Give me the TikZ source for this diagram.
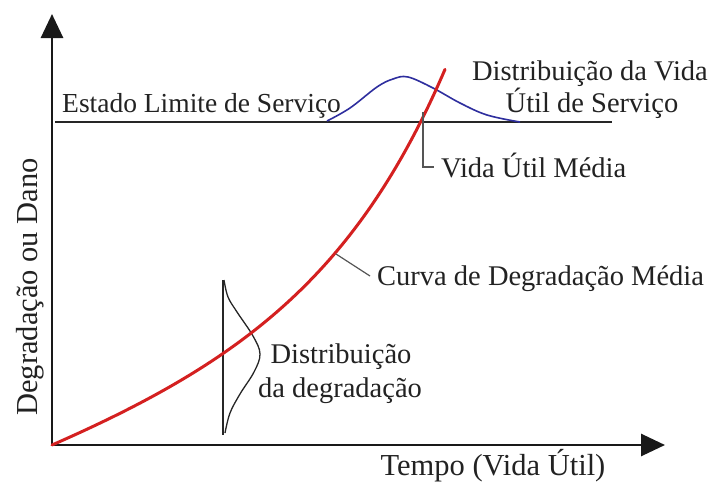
\documentclass[tikz,border=0pt]{standalone}
\usepackage{fontspec}
\setmainfont{Liberation Serif}
\usetikzlibrary{arrows.meta}
\definecolor{txt}{HTML}{222222}
\definecolor{curvered}{HTML}{D42020}
\definecolor{navy}{HTML}{2E2E9E}
\definecolor{leader}{HTML}{555555}
\tikzset{
  axis/.style={line width=2.8pt, draw=black!90, -{Triangle[length=24pt,width=22pt]}},
  lbl/.style={text=txt, inner sep=0pt, font=\fontsize{28.5}{32}\selectfont},
  axlbl/.style={text=txt, inner sep=0pt, font=\fontsize{30.5}{34}\selectfont},
  leaderline/.style={draw=leader, line width=1.2pt},
  thinblack/.style={draw=black!85, line width=1.5pt}
}
\begin{document}
\begin{tikzpicture}[x=1pt,y=-1pt]
\useasboundingbox (0,0) rectangle (715,490);
\coordinate (O) at (52,445);
\coordinate (xend) at (665,445);
\coordinate (ytop) at (52,14);
\draw[axis] (O) -- (xend);
\draw[axis] (O) -- (ytop);
% limit line
\coordinate (limL) at (55,122);
\coordinate (limR) at (612,122);
\draw[thinblack] (limL) -- (limR);
% blue distribution
\draw[navy, line width=1.6pt] plot[smooth, tension=0.6] coordinates {(327,121) (350,108) (377,87) (393,79) (408,77) (433,88) (460,103) (487,115) (520,122)};
% degradation distribution
\coordinate (dtop) at (223,280);
\coordinate (dbot) at (223,435);
\draw[thinblack] (dtop) -- (dbot);
\draw[black!85, line width=1.3pt] plot[smooth, tension=0.6] coordinates {(224,280) (228,297) (237,312) (253,336) (260,354) (254,372) (240,394) (230,413) (225,433)};
% red curve
\draw[curvered, line width=3pt, line cap=round] plot[domain=0:393, samples=140, variable=\t] ({52+\t},{445-(0.352*\t+10.71*(exp(0.008*\t)-1))});
% leaders
\coordinate (vA) at (423,112);
\coordinate (vB) at (423,167);
\coordinate (vC) at (434,167);
\draw[leaderline] (vA) -- (vB) -- (vC);
\coordinate (cA) at (336,254);
\coordinate (cB) at (370,276);
\draw[leaderline] (cA) -- (cB);
% labels
\node[lbl, anchor=base west, font=\fontsize{27.5}{31}\selectfont] (estado) at (62,112) {Estado Limite de Serviço};
\node[lbl, anchor=base] (dv1) at (590,80) {Distribuição da Vida};
\node[lbl, anchor=base] (dv2) at (592,112) {Útil de Serviço};
\node[lbl, anchor=base west] (vum) at (441,177) {Vida Útil Média};
\node[lbl, anchor=base west] (curva) at (377,285) {Curva de Degradação Média};
\node[lbl, anchor=base] (dd1) at (341,363) {Distribuição};
\node[lbl, anchor=base] (dd2) at (340,397) {da degradação};
\node[axlbl, anchor=base] (tempo) at (493,475) {Tempo (Vida Útil)};
\node[axlbl, anchor=base, rotate=90] (ylab) at (37,287) {Degradação ou Dano};
\end{tikzpicture}
\end{document}
